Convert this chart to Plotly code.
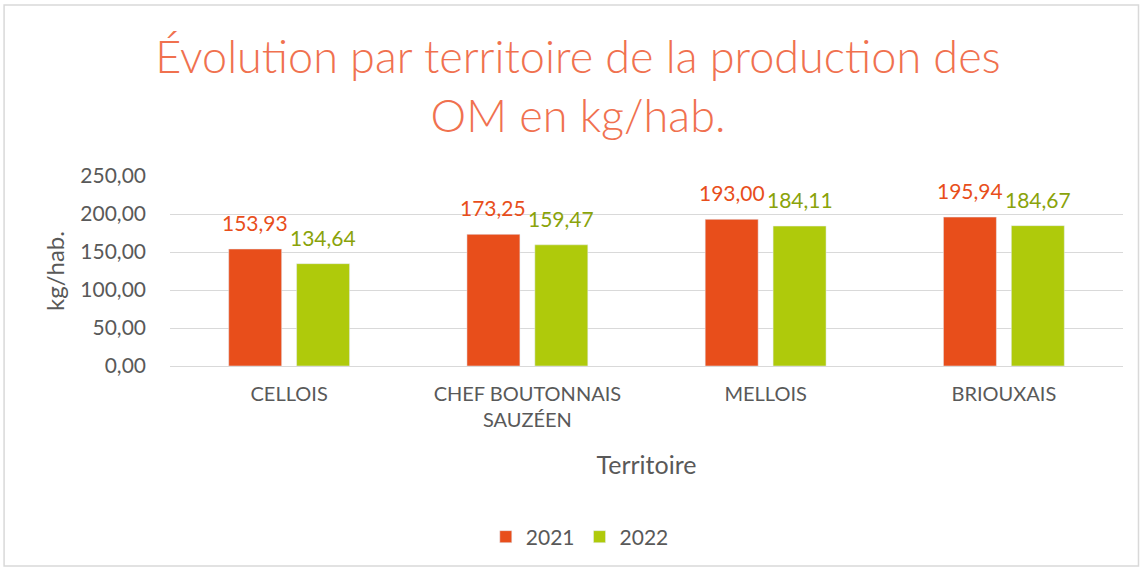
import plotly.graph_objects as go

categories = ["CELLOIS", "CHEF BOUTONNAIS<br>SAUZÉEN", "MELLOIS", "BRIOUXAIS"]
values_2021 = [153.93, 173.25, 193.00, 195.94]
values_2022 = [134.64, 159.47, 184.11, 184.67]
series_names = ["2021", "2022"]
y_ticks = [0, 50, 100, 150, 200, 250]

W, H = 1144, 570
L, R, T, B = 170, 20.5, 176, 204
pw, ph = W - L - R, H - T - B
BARGAP, GROUPGAP = 0.43, 0.22

def px(x):
    return (x - L) / pw

def py(y):
    return (H - B - y) / ph

def fmt(v):
    return f"{v:.2f}".replace(".", ",")

gray = "#595959"
orange, green, green_txt = "#E84E1B", "#AFCA0B", "#8AA30A"

fig = go.Figure()
fig.add_trace(go.Bar(x=categories, y=values_2021, name=series_names[0],
                     marker=dict(color=orange), offsetgroup="a"))
fig.add_trace(go.Bar(x=categories, y=values_2022, name=series_names[1],
                     marker=dict(color=green), offsetgroup="b"))

# data labels above bars (positioned via axis scale)
slot = (1 - BARGAP) / 2  # fraction of category width per bar slot
for i, cat in enumerate(categories):
    for vals, col, sgn in ((values_2021, orange, -1), (values_2022, green_txt, 1)):
        fig.add_annotation(
            x=i + sgn * slot / 2, y=vals[i], xref="x", yref="y",
            text=fmt(vals[i]), showarrow=False, yanchor="bottom", xanchor="center",
            yshift=12, font=dict(size=21, color=col),
        )

fig.update_layout(
    width=W, height=H,
    margin=dict(l=L, r=R, t=T, b=B, autoexpand=False),
    paper_bgcolor="white", plot_bgcolor="white",
    font=dict(family="Lato, Noto Sans, sans-serif", color=gray),
    separators=", ",
    barmode="group", bargap=BARGAP, bargroupgap=GROUPGAP,
    title=dict(
        text="Évolution par territoire de la production des<br>OM en kg/hab.",
        x=578 / W, xanchor="center", y=1 - 73 / H, yanchor="middle",
        font=dict(size=45, color="#F0714F", family="Lato, sans-serif", weight=300),
    ),
    showlegend=True,
    legend=dict(
        orientation="h", x=px(580), xanchor="center", y=py(537), yanchor="middle",
        font=dict(size=21, color=gray), traceorder="normal",
        itemwidth=30,
    ),
)
fig.update_yaxes(
    range=[0, 250], tickvals=y_ticks, tickformat=".2f",
    showgrid=True, gridcolor="#D9D9D9", gridwidth=1,
    zeroline=False, showline=False,
    tickfont=dict(size=21, color=gray), ticks="", ticklen=0,
    ticklabelstandoff=23,
    title=dict(text="kg/hab.", font=dict(size=24, color=gray), standoff=8),
)
fig.update_xaxes(
    showline=True, linecolor="#D9D9D9", linewidth=1,
    tickfont=dict(size=20, color=gray), ticks="", ticklabelstandoff=10,
    title=dict(text="Territoire", font=dict(size=25, color=gray), standoff=26),
)
fig.add_shape(
    type="rect", xref="paper", yref="paper",
    x0=px(4), x1=px(1139), y0=py(566), y1=py(5),
    line=dict(color="#D9D9D9", width=1.5), fillcolor="rgba(0,0,0,0)", layer="below",
)

fig.write_html("out.html", config={"displayModeBar": False},
               post_script="document.body.style.margin='0';")
